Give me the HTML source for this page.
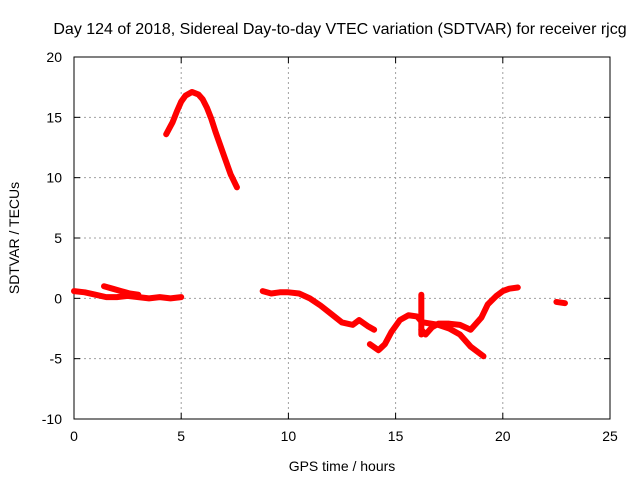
<!DOCTYPE html>
<html><head><meta charset="utf-8"><style>
body{margin:0;background:#fff;}
svg{display:block;font-family:"Liberation Sans",Arial,sans-serif;}
</style></head><body>
<svg id="chart" width="640" height="480"></svg>
<script>
const xTicks=[0,5,10,15,20,25];
const yTicks=[-10,-5,0,5,10,15,20];
const segHump=[[4.3,13.6],[4.6,14.6],[4.8,15.5],[5.0,16.3],[5.2,16.8],[5.5,17.1],[5.8,16.9],[6.0,16.5],[6.2,15.8],[6.4,14.9],[6.6,13.8],[7.0,11.8],[7.3,10.3],[7.6,9.2]];
const segEarly=[[0,0.6],[0.5,0.5],[1.0,0.3],[1.5,0.1],[2.0,0.1],[2.5,0.2],[3.0,0.1],[3.5,0.0],[4.0,0.1],[4.5,0.0],[5.0,0.1]];
const segEarly2=[[1.4,1.0],[1.8,0.8],[2.2,0.6],[2.6,0.4],[3.0,0.3]];
const segMid=[[8.8,0.6],[9.2,0.4],[9.6,0.5],[10.0,0.5],[10.5,0.4],[11.0,0.0],[11.5,-0.6],[12.0,-1.3],[12.5,-2.0],[13.0,-2.2],[13.3,-1.8],[13.7,-2.3],[14.0,-2.6]];
const segDip=[[13.8,-3.8],[14.2,-4.3],[14.5,-3.8],[14.8,-2.8],[15.2,-1.8],[15.6,-1.4],[16.0,-1.5],[16.2,-1.9]];
const segFall=[[16.3,-2.0],[17.0,-2.2],[17.5,-2.5],[18.0,-3.0],[18.5,-4.0],[19.1,-4.8]];
const segRise=[[16.2,-2.6],[16.4,-3.0],[16.7,-2.4],[17.0,-2.1],[17.5,-2.1],[18.0,-2.2],[18.5,-2.6],[19.0,-1.6],[19.3,-0.5],[19.7,0.2],[20.0,0.6],[20.3,0.8],[20.7,0.9]];
const segSpike=[[16.2,0.3],[16.2,-3.0]];
const segLate=[[22.5,-0.3],[22.9,-0.4]];
const series=[segHump,segEarly,segEarly2,segMid,segDip,segFall,segRise,segSpike,segLate];

const L=74,R=610,T=57,B=419,xmin=0,xmax=25,ymin=-10,ymax=20;
const sx=v=>L+(v-xmin)/(xmax-xmin)*(R-L);
const sy=v=>B-(v-ymin)/(ymax-ymin)*(B-T);
const svg=document.getElementById('chart');
const NS='http://www.w3.org/2000/svg';
function mk(tag,attrs,parent){const e=document.createElementNS(NS,tag);for(const k in attrs)e.setAttribute(k,attrs[k]);(parent||svg).appendChild(e);return e;}

xTicks.forEach(v=>{
  if(v>xmin&&v<xmax){const g=mk('line',{x1:sx(v),x2:sx(v),y1:T,y2:B,stroke:'#a0a0a0','stroke-dasharray':'2,3','stroke-width':1});
  
  }
  const tl=mk('line',{x1:sx(v),x2:sx(v),y1:B,y2:B-6,stroke:'#000'});
  
  
  const tt=mk('line',{x1:sx(v),x2:sx(v),y1:T,y2:T+6,stroke:'#000'});
  
  
  const t=mk('text',{x:sx(v),y:B+22,'text-anchor':'middle','font-size':14,fill:'#000'});
  t.textContent=v;
  
  
});
yTicks.forEach(v=>{
  if(v>ymin&&v<ymax){const g=mk('line',{x1:L,x2:R,y1:sy(v),y2:sy(v),stroke:'#a0a0a0','stroke-dasharray':'2,3','stroke-width':1});
  
  }
  const tl=mk('line',{x1:L,x2:L+6,y1:sy(v),y2:sy(v),stroke:'#000'});
  
  
  const tr=mk('line',{x1:R,x2:R-6,y1:sy(v),y2:sy(v),stroke:'#000'});
  
  
  const t=mk('text',{x:L-12,y:sy(v)+5,'text-anchor':'end','font-size':14,fill:'#000'});
  t.textContent=v;
  
  
});
const frame=mk('rect',{x:L,y:T,width:R-L,height:B-T,fill:'none',stroke:'#000','stroke-width':1});



series.forEach(s=>{
  const p=mk('polyline',{points:s.map(d=>sx(d[0])+','+sy(d[1])).join(' '),fill:'none',stroke:'#ff0000','stroke-width':6,'stroke-linejoin':'round','stroke-linecap':'round'});
  
  
});

const title=mk('text',{x:340,y:34,'text-anchor':'middle','font-size':16,fill:'#000'});
title.textContent='Day 124 of 2018, Sidereal Day-to-day VTEC variation (SDTVAR) for receiver rjcg';


const xt=mk('text',{x:342,y:471,'text-anchor':'middle','font-size':14,fill:'#000'});
xt.textContent='GPS time / hours';


const yt=mk('text',{x:0,y:0,'text-anchor':'middle','font-size':14,fill:'#000',transform:'translate(19,238) rotate(-90)'});
yt.textContent='SDTVAR / TECUs';


</script>
</body></html>
